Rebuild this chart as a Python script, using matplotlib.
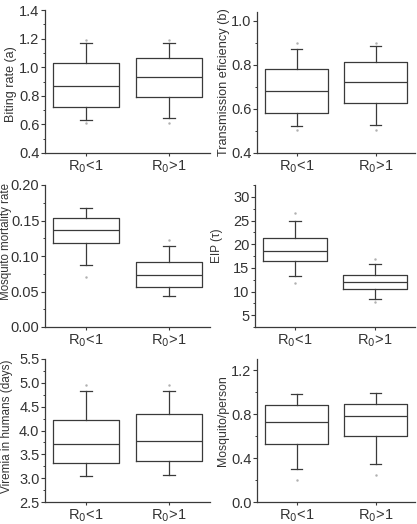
import numpy as np
import matplotlib.pyplot as plt
from matplotlib.ticker import AutoMinorLocator

plt.rcParams['font.family'] = ['Liberation Sans', 'DejaVu Sans']

groups = [r'R$_0$<1', r'R$_0$>1']

# box stats per panel: [R0<1, R0>1]
biting_whislo = [0.629, 0.645]
biting_q1 = [0.722, 0.793]
biting_med = [0.867, 0.928]
biting_q3 = [1.026, 1.066]
biting_whishi = [1.166, 1.171]
biting_dots = [[0.61, 1.19], [0.61, 1.19]]

trans_whislo = [0.521, 0.526]
trans_q1 = [0.582, 0.627]
trans_med = [0.680, 0.723]
trans_q3 = [0.783, 0.814]
trans_whishi = [0.874, 0.885]
trans_dots = [[0.505, 0.90], [0.505, 0.90]]

mort_whislo = [0.088, 0.043]
mort_q1 = [0.119, 0.0565]
mort_med = [0.136, 0.073]
mort_q3 = [0.154, 0.092]
mort_whishi = [0.167, 0.114]
mort_dots = [[0.070], [0.123]]

eip_whislo = [13.24, 8.52]
eip_q1 = [16.41, 10.56]
eip_med = [18.66, 12.04]
eip_q3 = [21.34, 13.59]
eip_whishi = [24.93, 15.77]
eip_dots = [[11.8, 26.5], [7.7, 16.97]]

vir_whislo = [3.04, 3.075]
vir_q1 = [3.318, 3.352]
vir_med = [3.719, 3.78]
vir_q3 = [4.218, 4.336]
vir_whishi = [4.828, 4.828]
vir_dots = [[4.95], [4.95]]

mosq_whislo = [0.304, 0.349]
mosq_q1 = [0.528, 0.597]
mosq_med = [0.725, 0.782]
mosq_q3 = [0.881, 0.887]
mosq_whishi = [0.985, 0.994]
mosq_dots = [[0.203], [0.245]]

panels = [
    ('Biting rate (a)', biting_whislo, biting_q1, biting_med, biting_q3, biting_whishi, biting_dots,
     (0.4, 1.4), np.arange(0.4, 1.41, 0.2), '%.1f'),
    ('Transmission eficiency (b)', trans_whislo, trans_q1, trans_med, trans_q3, trans_whishi, trans_dots,
     (0.4, 1.04), np.arange(0.4, 1.01, 0.2), '%.1f'),
    ('Mosquito mortality rate', mort_whislo, mort_q1, mort_med, mort_q3, mort_whishi, mort_dots,
     (0.0, 0.2), np.arange(0.0, 0.201, 0.05), '%.2f'),
    ('EIP (\u03c4)', eip_whislo, eip_q1, eip_med, eip_q3, eip_whishi, eip_dots,
     (2.5, 32.5), np.arange(5, 31, 5), '%d'),
    ('Viremia in humans (days)', vir_whislo, vir_q1, vir_med, vir_q3, vir_whishi, vir_dots,
     (2.5, 5.5), np.arange(2.5, 5.51, 0.5), '%.1f'),
    ('Mosquito/person', mosq_whislo, mosq_q1, mosq_med, mosq_q3, mosq_whishi, mosq_dots,
     (0.0, 1.3), np.arange(0.0, 1.21, 0.4), '%.1f'),
]

# axes rectangles in pixels: left, right, top, bottom,
# ylabel right edge x, ylabel centre (axes fraction), ylabel size
W, H = 417, 524
rects = [
    (45, 210, 10, 153, 17, 0.48, 9.0), (257, 415, 12, 153, 230, 0.5, 9.2),
    (45, 210, 185, 327, 12, 0.60, 8.3), (255, 415, 185, 327, 223, 0.57, 8.5),
    (45, 210, 359, 502, 13, 0.53, 8.5), (257, 415, 359, 502, 229, 0.57, 8.8),
]

fig = plt.figure(figsize=(W / 100, H / 100), dpi=100)
lc = '#3a3a3a'

for (label, wlo, q1, med, q3, whi, dots, ylim, yt, fmt), (l, r, t, b, lx, ly, ls) in zip(panels, rects):
    ax = fig.add_axes([l / W, 1 - b / H, (r - l) / W, (b - t) / H])
    stats = []
    for i in range(2):
        stats.append(dict(whislo=wlo[i], q1=q1[i], med=med[i], q3=q3[i],
                          whishi=whi[i], fliers=dots[i]))
    ax.bxp(stats, positions=[1, 2], widths=0.8, showfliers=True,
           boxprops=dict(color=lc, lw=0.9),
           medianprops=dict(color=lc, lw=0.9),
           whiskerprops=dict(color=lc, lw=0.9),
           capprops=dict(color=lc, lw=0.9),
           capwidths=0.14,
           flierprops=dict(marker='.', markersize=1.5, markerfacecolor='#b0b0b0',
                           markeredgecolor='#b0b0b0'))
    ax.set_xlim(0.5, 2.5)
    ax.set_ylim(*ylim)
    ax.set_yticks(yt)
    ax.set_yticklabels([fmt % v for v in yt])
    ax.yaxis.set_minor_locator(AutoMinorLocator(2))
    ax.set_xticks([1, 2])
    ax.set_xticklabels(groups)
    ax.spines['top'].set_visible(False)
    ax.spines['right'].set_visible(False)
    for s in ('left', 'bottom'):
        ax.spines[s].set_color(lc)
        ax.spines[s].set_linewidth(0.9)
    ax.tick_params(axis='y', which='major', direction='out', length=3, width=0.8,
                   color=lc, labelsize=10.5, labelcolor='#333333', pad=1)
    ax.tick_params(axis='y', which='minor', direction='out', length=1.8, width=0.7, color=lc)
    ax.tick_params(axis='x', direction='out', length=2, width=0.8, color=lc,
                   labelsize=10.5, labelcolor='#333333', pad=1.5)
    ax.set_ylabel(label, fontsize=ls, color='#333333')
    ax.yaxis.set_label_coords((lx - l) / (r - l), ly)

fig.savefig('out.png', dpi=100)
